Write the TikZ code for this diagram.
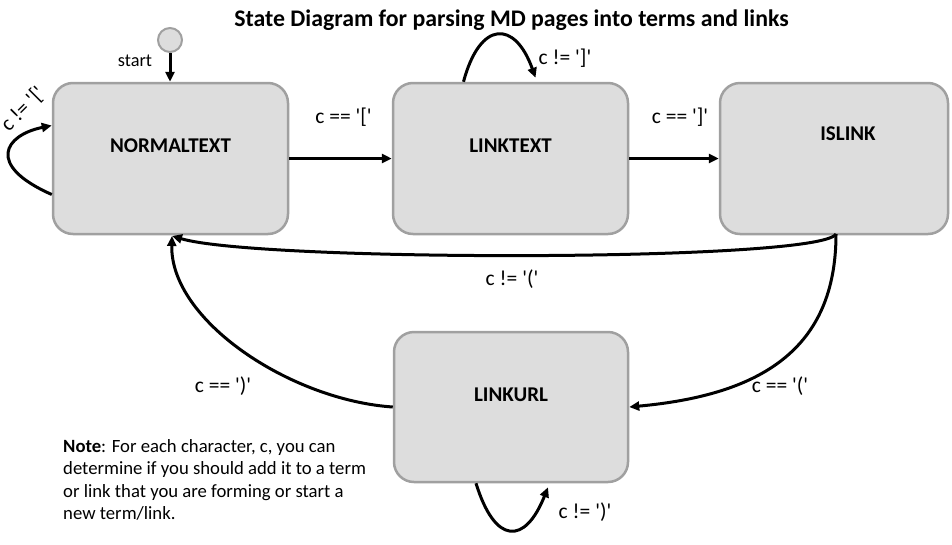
\documentclass[tikz,border=0pt]{standalone}
\usepackage{fontspec}
\setmainfont{Carlito}
\usetikzlibrary{arrows.meta}
\definecolor{boxfill}{HTML}{DDDDDD}
\definecolor{boxdraw}{HTML}{A0A0A0}
\newcommand{\sq}{\textquotesingle}
\tikzset{
  statebox/.style={draw=boxdraw, fill=boxfill, line width=2.5pt, rounded corners=20pt, minimum width=235pt, minimum height=151pt, inner sep=0pt},
  statelabel/.style={font=\fontsize{21}{24}\selectfont\bfseries, inner sep=0pt},
  edgelabel/.style={font=\fontsize{21.5}{24}\selectfont, inner sep=0pt},
  arr/.style={line width=3pt, -{Triangle[length=10pt,width=9pt]}},
}
\begin{document}
\begin{tikzpicture}[x=1pt,y=-1pt]
\useasboundingbox (0,0) rectangle (952,544);
% title
\node[font=\fontsize{23.8}{28}\selectfont\bfseries, inner sep=0pt] (title) at (511.5,20) {State Diagram for parsing MD pages into terms and links};
% start
\node[circle, draw=boxdraw, fill=boxfill, line width=2pt, minimum size=24pt, inner sep=0pt] (start) at (170,40) {};
\node[font=\fontsize{18.3}{20}\selectfont, inner sep=0pt] (startlbl) at (135,61) {start};
% boxes
\node[statebox] (nt) at (170.5,158.5) {};
\node[statebox] (lt) at (510.5,158.5) {};
\node[statebox, minimum width=228pt] (il) at (834,158.5) {};
\node[statebox, minimum width=234pt, minimum height=150pt] (lu) at (511,407) {};
\node[statelabel] (ntl) at (170.5,146) {NORMALTEXT};
\node[statelabel] (ltl) at (510.5,146) {LINKTEXT};
\node[statelabel] (ill) at (848,134) {ISLINK};
\node[statelabel] (lul) at (511,395) {LINKURL};
% connectors
\draw[arr] (start.south) -- (start.south |- nt.north);
\draw[arr] (nt.east) -- (lt.west);
\draw[arr] (lt.east) -- (il.west);
\coordinate (ntl1) at ([yshift=-36pt]nt.west);
\coordinate (ntl2) at ([yshift=33pt]nt.west);
\draw[arr] (ntl1) .. controls (-15,165) and (5,135) .. (ntl2);
\coordinate (ltl1) at ([xshift=-47pt]lt.north);
\coordinate (ltl2) at ([xshift=25pt,yshift=4pt]lt.north);
\draw[arr] (ltl1) .. controls (480,20) and (515,20) .. (ltl2);
\coordinate (lul1) at ([xshift=-35pt]lu.south);
\coordinate (lul2) at ([xshift=37pt,yshift=-4pt]lu.south);
\draw[arr] (lul1) .. controls (495,545) and (525,545) .. (lul2);
\coordinate (ilb) at (836,234);
\coordinate (ntb) at (172,236);
\draw[arr] (ilb) .. controls (820,262) and (260,262) .. (ntb);
\draw[arr] (ilb) .. controls (836,350) and (760,395) .. (lu.east);
\draw[arr] (lu.west) .. controls (290,400) and (170,320) .. (ntb);
% labels
\node[edgelabel] (e1) at (343.5,117) {c == \sq[\sq};
\node[edgelabel] (e2) at (680,117) {c == \sq]\sq};
\node[edgelabel] (e3) at (565,58) {c != \sq]\sq};
\node[edgelabel, rotate=45] (e4) at (23,109) {c != \sq[\sq};
\node[edgelabel] (e5) at (512,279) {c != \sq(\sq};
\node[edgelabel] (e6) at (780,386) {c == \sq(\sq};
\node[edgelabel] (e7) at (223,386) {c == \sq)\sq};
\node[edgelabel] (e8) at (585,512) {c != \sq)\sq};
% note
\node[anchor=north west, align=left, inner sep=0pt, font=\fontsize{18.7}{22.5}\selectfont] (note) at (63,439) {\textbf{Note}: For each character, c, you can\\determine if you should add it to a term\\or link that you are forming or start a\\new term/link.};
\end{tikzpicture}
\end{document}
